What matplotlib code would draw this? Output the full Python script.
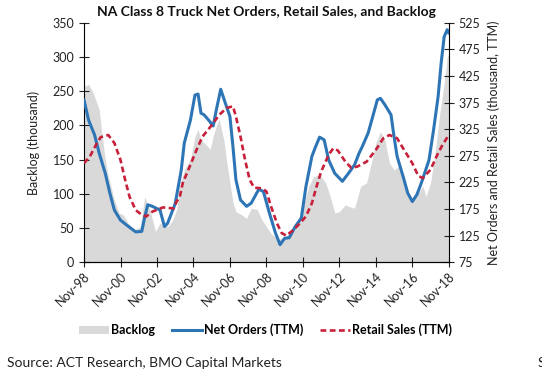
import matplotlib
matplotlib.use("Agg")
import matplotlib.pyplot as plt
import matplotlib.dates as mdates
from matplotlib.patches import Patch
from matplotlib.lines import Line2D
import pandas as pd

# Backlog (left axis, thousand)
backlog_dates = ["1998-11", "1999-02", "1999-05", "1999-09", "1999-11", "2000-01", "2000-03",
                 "2000-07", "2000-10", "2001-01", "2001-04", "2001-08", "2001-12", "2002-03",
                 "2002-07", "2002-10", "2003-01", "2003-06", "2003-09", "2003-12", "2004-02",
                 "2004-05", "2004-09", "2004-12", "2005-02", "2005-04", "2005-08", "2005-10",
                 "2005-12", "2006-02", "2006-04", "2006-07", "2006-09", "2006-11", "2007-01",
                 "2007-03", "2007-07", "2007-10", "2008-01", "2008-05", "2008-08", "2008-11",
                 "2009-02", "2009-07", "2009-11", "2010-04", "2010-08", "2010-11", "2011-03",
                 "2011-06", "2011-10", "2012-02", "2012-05", "2012-08", "2012-11", "2013-03",
                 "2013-06", "2013-09", "2014-01", "2014-05", "2014-07", "2014-11", "2015-02",
                 "2015-05", "2015-08", "2015-11", "2016-02", "2016-05", "2016-08", "2016-12",
                 "2017-03", "2017-06", "2017-08", "2017-11", "2018-02", "2018-05", "2018-08",
                 "2018-10", "2018-11"]
backlog = [257, 260, 248, 223, 184, 150, 126,
           91, 72, 69, 57, 47, 52, 96,
           72, 45, 57, 52, 60, 77, 111,
           135, 150, 184, 194, 179, 170, 165,
           184, 199, 209, 179, 145, 116, 87,
           74, 69, 64, 79, 77, 62, 52,
           42, 33, 37, 45, 60, 81, 111,
           125, 128, 116, 96, 72, 74, 84,
           81, 79, 111, 116, 135, 174, 191,
           179, 145, 135, 140, 121, 101, 91,
           101, 111, 96, 116, 160, 215, 262,
           300, 305]

# Net orders, trailing twelve months (right axis, thousand)
orders_dates = ["1998-11", "1999-02", "1999-06", "1999-09", "2000-01", "2000-04", "2000-07",
                "2000-11", "2001-03", "2001-09", "2002-01", "2002-03", "2002-05", "2002-08",
                "2003-01", "2003-04", "2003-06", "2003-11", "2004-03", "2004-05", "2004-09",
                "2004-12", "2005-02", "2005-04", "2005-06", "2005-09", "2005-12", "2006-02",
                "2006-05", "2006-08", "2006-11", "2007-01", "2007-03", "2007-06", "2007-10",
                "2008-01", "2008-06", "2008-09", "2009-01", "2009-05", "2009-08", "2009-11",
                "2010-02", "2010-06", "2010-10", "2011-01", "2011-05", "2011-07", "2011-10",
                "2012-01", "2012-04", "2012-08", "2013-01", "2013-05", "2013-09", "2013-12",
                "2014-02", "2014-06", "2014-09", "2014-12", "2015-02", "2015-05", "2015-09",
                "2015-11", "2016-01", "2016-05", "2016-08", "2016-11", "2017-02", "2017-05",
                "2017-10", "2018-01", "2018-04", "2018-06", "2018-08", "2018-10", "2018-11"]
net_orders = [380, 342, 314, 280, 242, 205, 173,
              154, 145, 132, 133, 160, 183, 180,
              173, 142, 148, 185, 248, 299, 342,
              389, 391, 355, 352, 342, 331, 361,
              400, 374, 349, 292, 230, 192, 180,
              186, 212, 208, 167, 130, 108, 120,
              121, 142, 158, 217, 274, 289, 310,
              305, 267, 242, 227, 242, 258, 280,
              292, 318, 349, 380, 383, 371, 352,
              311, 274, 236, 205, 189, 202, 224,
              267, 324, 386, 449, 499, 512, 506]

# Retail sales, trailing twelve months (right axis, thousand)
sales_dates = ["1998-11", "1999-03", "1999-07", "1999-10", "2000-03", "2000-07", "2000-11",
               "2001-02", "2001-05", "2001-09", "2002-01", "2002-04", "2002-08", "2003-03",
               "2003-10", "2003-12", "2004-02", "2004-04", "2004-09", "2005-01", "2005-05",
               "2005-12", "2006-04", "2006-09", "2007-01", "2007-03", "2007-06", "2007-09",
               "2007-12", "2008-03", "2008-08", "2008-11", "2009-02", "2009-06", "2009-09",
               "2009-12", "2010-05", "2010-09", "2011-01", "2011-05", "2011-08", "2011-11",
               "2012-04", "2012-07", "2012-10", "2013-03", "2013-07", "2013-11", "2014-05",
               "2014-11", "2015-04", "2015-08", "2016-01", "2016-05", "2016-11", "2017-03",
               "2017-06", "2017-11", "2018-03", "2018-07", "2018-11"]
retail_sales = [261, 274, 296, 310, 314, 299, 267,
                230, 198, 173, 164, 161, 170, 178,
                176, 189, 198, 224, 258, 286, 311,
                336, 352, 365, 368, 349, 311, 267,
                230, 215, 214, 208, 180, 148, 130,
                125, 136, 148, 161, 186, 217, 245,
                277, 289, 285, 264, 252, 255, 264,
                286, 308, 314, 308, 289, 261, 237,
                233, 249, 274, 296, 314]

left_ticks = [0, 50, 100, 150, 200, 250, 300, 350]
right_ticks = [75, 125, 175, 225, 275, 325, 375, 425, 475, 525]

FONT = "Lato"
plt.rcParams["font.family"] = FONT

GREY, BLUE, RED = "#d9d9d9", "#2e75b6", "#c8203a"
DASH = (0, (2.2, 1.3))

fig = plt.figure(figsize=(5.42, 3.73), dpi=100)
ax = fig.add_axes([0.155, 0.297, 0.673, 0.642])
ax2 = ax.twinx()

bd = pd.to_datetime(backlog_dates)
od = pd.to_datetime(orders_dates)
sd = pd.to_datetime(sales_dates)

ax.fill_between(bd, backlog, 0, color=GREY, linewidth=0)
ax2.plot(od, net_orders, color=BLUE, linewidth=2.2)
ax2.plot(sd, retail_sales, color=RED, linewidth=1.9, linestyle=DASH)

start, end = pd.Timestamp("1998-11-01"), pd.Timestamp("2018-11-01")
ax.set_xlim(start, end)
ax.set_ylim(0, 350)
ax2.set_ylim(75, 525)
ax.set_yticks(left_ticks)
ax2.set_yticks(right_ticks)

xticks = pd.date_range(start, end, freq="24MS")
ax.set_xticks(xticks)
ax.xaxis.set_major_formatter(mdates.DateFormatter("%b-%y"))
for lab in ax.get_xticklabels():
    lab.set_rotation(45)
    lab.set_ha("right")
    lab.set_rotation_mode("anchor")

for a in (ax, ax2):
    a.spines["top"].set_visible(False)
    a.tick_params(labelsize=9, colors="#222222", width=0.8)
ax.tick_params(axis="y", direction="inout", length=7)
ax2.tick_params(axis="y", direction="inout", length=7)
ax.tick_params(axis="x", direction="inout", length=7, pad=2)
ax2.spines["left"].set_visible(False)
ax.spines["right"].set_visible(False)

ax.set_ylabel("Backlog (thousand)", fontsize=9, color="#222222")
ax.yaxis.set_label_coords(-0.12, 0.5)
ax2.set_ylabel("Net Orders and Retail Sales (thousand, TTM)", fontsize=9,
               color="#222222", labelpad=5)
ax.set_title("NA Class 8 Truck Net Orders, Retail Sales, and Backlog",
             fontsize=10, fontweight="bold", color="#111111", pad=5)

handles = [Patch(facecolor=GREY, edgecolor="none"),
           Line2D([], [], color=BLUE, linewidth=2.2),
           Line2D([], [], color=RED, linewidth=1.9, linestyle=DASH)]
labels = ["Backlog", "Net Orders (TTM)", "Retail Sales (TTM)"]
fig.legend(handles, labels, loc="center", bbox_to_anchor=(0.49, 0.115), ncol=3,
           frameon=False, handlelength=2.4, handletextpad=0.2, columnspacing=1.3,
           prop={"weight": "bold", "size": 9, "family": FONT})

fig.text(0.012, 0.028, "Source: ACT Research, BMO Capital Markets", fontsize=10,
         color="#222222", ha="left", va="center")
fig.text(0.991, 0.028, "S", fontsize=10, color="#222222", ha="left", va="center")

fig.savefig("out.png", dpi=100)
